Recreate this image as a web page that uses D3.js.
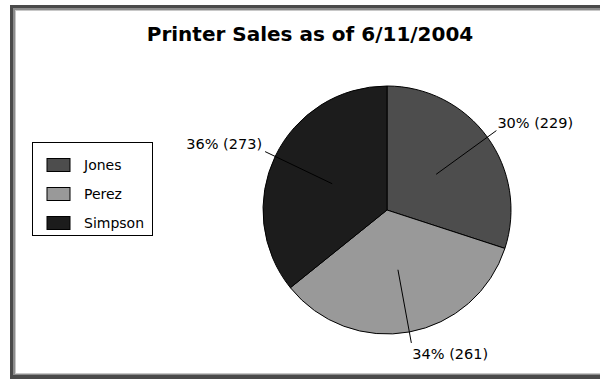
<!DOCTYPE html>
<html>
<head>
<meta charset="utf-8">
<script src="https://cdn.jsdelivr.net/npm/d3@7"></script>
<style>
  html, body { margin: 0; padding: 0; background: #fff; }
  svg { display: block; }
</style>
</head>
<body>
<svg id="chart" width="600" height="379"></svg>
<script>
// Sales data
const salespeople = ["Jones", "Perez", "Simpson"];
const unitsSold = [229, 261, 273];
const sliceColors = ["#4d4d4d", "#999999", "#1c1c1c"];
const chartTitle = "Printer Sales as of 6/11/2004";

const svg = d3.select("#chart");
const W = 600, H = 379;

// Inset 3D-style frame
svg.append("rect").attr("x", 10).attr("y", 5).attr("width", W).attr("height", H).attr("fill", "#4a4a4a");
svg.append("rect").attr("x", 13).attr("y", 8).attr("width", W).attr("height", 375 - 8).attr("fill", "#8c8c8c");
svg.append("rect").attr("x", 15).attr("y", 10).attr("width", W).attr("height", 374 - 10).attr("fill", "#c8c8c8");
svg.append("rect").attr("x", 16).attr("y", 11).attr("width", W).attr("height", 373 - 11).attr("fill", "#ffffff");

// Title
svg.append("text")
  .attr("x", 310).attr("y", 41)
  .attr("text-anchor", "middle")
  .attr("font-family", "DejaVu Sans, Verdana, sans-serif")
  .attr("font-weight", "bold")
  .attr("font-size", 20)
  .attr("fill", "#000")
  .text(chartTitle);

// Pie
const cx = 387, cy = 210, r = 124;
const data = salespeople.map((name, i) => ({ name, value: unitsSold[i], color: sliceColors[i] }));
const total = d3.sum(unitsSold);

const pie = d3.pie().sort(null).value(d => d.value);
const arcs = pie(data);
const arc = d3.arc().innerRadius(0).outerRadius(r);

const g = svg.append("g").attr("transform", `translate(${cx},${cy})`);

g.selectAll("path.slice")
  .data(arcs)
  .enter().append("path")
  .attr("class", "slice")
  .attr("d", arc)
  .attr("fill", d => d.data.color)
  .attr("stroke", "#000")
  .attr("stroke-width", 1)
  .attr("stroke-linejoin", "round");

// Leader lines and value labels
const innerArc = d3.arc().innerRadius(r * 0.49).outerRadius(r * 0.49);
const outerArc = d3.arc().innerRadius(r * 1.09).outerRadius(r * 1.09);

arcs.forEach(d => {
  const p1 = innerArc.centroid(d);
  const p2 = outerArc.centroid(d);
  g.append("line")
    .attr("x1", p1[0]).attr("y1", p1[1])
    .attr("x2", p2[0]).attr("y2", p2[1])
    .attr("stroke", "#000")
    .attr("stroke-width", 1);

  const right = p2[0] >= 0;
  const top = p2[1] < 0;
  const pct = Math.round(d.data.value / total * 100);
  g.append("text")
    .attr("x", right ? p2[0] + 1 : p2[0] - 3)
    .attr("y", top ? p2[1] - 3 : p2[1] + 16)
    .attr("text-anchor", right ? "start" : "end")
    .attr("font-family", "DejaVu Sans, Verdana, sans-serif")
    .attr("font-size", 14.5)
    .attr("fill", "#000")
    .text(`${pct}% (${d.data.value})`);
});

// Legend
const legend = svg.append("g");
legend.append("rect")
  .attr("x", 32.5).attr("y", 142.5)
  .attr("width", 120).attr("height", 93)
  .attr("fill", "#fff")
  .attr("stroke", "#000")
  .attr("stroke-width", 1);

const rowY = d3.scalePoint().domain(salespeople).range([158, 216]);

data.forEach(d => {
  const y = rowY(d.name);
  legend.append("rect")
    .attr("x", 47).attr("y", y + 0.5)
    .attr("width", 23).attr("height", 13)
    .attr("fill", d.color)
    .attr("stroke", "#000")
    .attr("stroke-width", 1);
  legend.append("text")
    .attr("x", 84).attr("y", y + 12)
    .attr("font-family", "DejaVu Sans, Verdana, sans-serif")
    .attr("font-size", 14)
    .attr("fill", "#000")
    .text(d.name);
});
</script>
</body>
</html>
